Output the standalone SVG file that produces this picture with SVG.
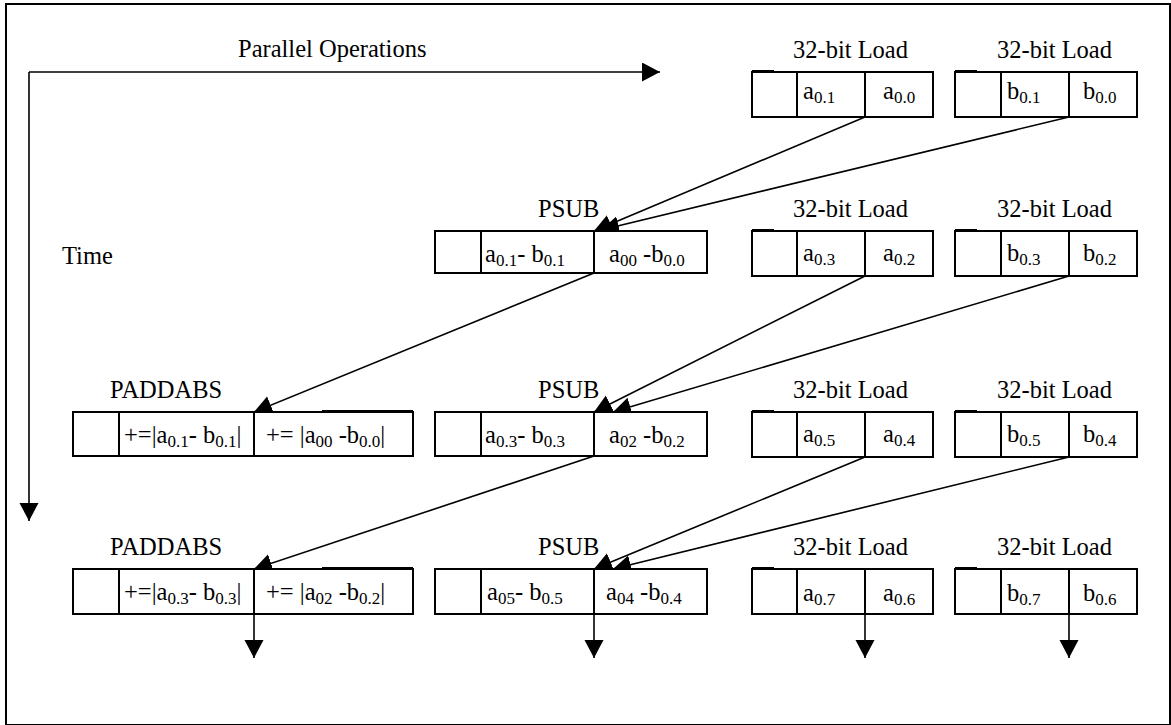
<svg xmlns="http://www.w3.org/2000/svg" width="1171" height="725" viewBox="0 0 1171 725">
<style>
.t{font-family:"Liberation Serif","Times New Roman",serif;font-size:24.5px;fill:#000}
.s{font-size:17px}
.box{fill:#fff;stroke:#000;stroke-width:2}
.div{stroke:#000;stroke-width:2}
.c{stroke:#000;stroke-width:1.6;fill:none}
</style>
<defs>
<marker id="ah" markerUnits="userSpaceOnUse" markerWidth="20" markerHeight="20" refX="18" refY="9.5" orient="auto">
<path d="M0,0 L18,9.5 L0,19 z" fill="#000"/>
</marker>
<clipPath id="clipR1"><rect x="740" y="60" width="420" height="43.5"/></clipPath>
<clipPath id="clipR4"><rect x="740" y="570" width="420" height="35.5"/></clipPath>
</defs>
<rect x="0" y="0" width="1171" height="725" fill="#fff"/>
<rect x="6" y="4" width="1164" height="721" fill="none" stroke="#000" stroke-width="2"/>
<text class="t" x="238" y="57">Parallel Operations</text>
<text class="t" x="62" y="264">Time</text>

<g id="connectors">
<path class="c" d="M29,72 L660,72" marker-end="url(#ah)"/>
<path class="c" d="M29,72 L29,521" marker-end="url(#ah)"/>
<path class="c" d="M865,117 L594,231" marker-end="url(#ah)"/>
<path class="c" d="M1069,117 L601,230" marker-end="url(#ah)"/>
<path class="c" d="M594,273 L254,412" marker-end="url(#ah)"/>
<path class="c" d="M865,276 L594,412" marker-end="url(#ah)"/>
<path class="c" d="M1069,276 L613,412" marker-end="url(#ah)"/>
<path class="c" d="M594,456 L254,569" marker-end="url(#ah)"/>
<path class="c" d="M865,457 L594,569" marker-end="url(#ah)"/>
<path class="c" d="M1069,457 L613,569" marker-end="url(#ah)"/>
<path class="c" d="M254,614 L254,658" marker-end="url(#ah)"/>
<path class="c" d="M594,614 L594,658" marker-end="url(#ah)"/>
<path class="c" d="M865,614 L865,658" marker-end="url(#ah)"/>
<path class="c" d="M1069,614 L1069,658" marker-end="url(#ah)"/>
</g>

<!-- Row 1 -->
<g id="load-a-r1">
<text class="t" x="793" y="58">32-bit Load</text>
<rect class="box" x="752" y="72" width="181" height="45"/>
<line class="div" x1="797" y1="72" x2="797" y2="117"/><line class="div" x1="865" y1="72" x2="865" y2="117"/>
<line class="div" x1="752" y1="71" x2="774" y2="71"/>
<g clip-path="url(#clipR1)">
<text class="t" x="803" y="99">a<tspan class="s" dy="4">0.1</tspan></text>
<text class="t" x="883" y="99">a<tspan class="s" dy="4">0.0</tspan></text>
</g>
</g>
<g id="load-b-r1">
<text class="t" x="997" y="58">32-bit Load</text>
<rect class="box" x="955" y="72" width="182" height="45"/>
<line class="div" x1="1001" y1="72" x2="1001" y2="117"/><line class="div" x1="1069" y1="72" x2="1069" y2="117"/>
<line class="div" x1="955" y1="71" x2="977" y2="71"/>
<g clip-path="url(#clipR1)">
<text class="t" x="1007" y="99">b<tspan class="s" dy="4">0.1</tspan></text>
<text class="t" x="1083" y="99">b<tspan class="s" dy="4">0.0</tspan></text>
</g>
</g>

<!-- Row 2 -->
<g id="psub-r2">
<text class="t" x="538" y="217">PSUB</text>
<rect class="box" x="435" y="231" width="272" height="42"/>
<line class="div" x1="481" y1="231" x2="481" y2="273"/><line class="div" x1="594" y1="231" x2="594" y2="273"/>
<text class="t" x="485" y="262">a<tspan class="s" dy="4">0.1</tspan><tspan dy="-4">- b</tspan><tspan class="s" dy="4">0.1</tspan></text>
<text class="t" x="609" y="262">a<tspan class="s" dy="4">00</tspan><tspan dy="-4"> -b</tspan><tspan class="s" dy="4">0.0</tspan></text>
</g>
<g id="load-a-r2">
<text class="t" x="793" y="217">32-bit Load</text>
<rect class="box" x="752" y="231" width="181" height="45"/>
<line class="div" x1="797" y1="231" x2="797" y2="276"/><line class="div" x1="865" y1="231" x2="865" y2="276"/>
<line class="div" x1="752" y1="230" x2="774" y2="230"/>
<text class="t" x="803" y="261">a<tspan class="s" dy="4">0.3</tspan></text>
<text class="t" x="883" y="261">a<tspan class="s" dy="4">0.2</tspan></text>
</g>
<g id="load-b-r2">
<text class="t" x="997" y="217">32-bit Load</text>
<rect class="box" x="955" y="231" width="182" height="45"/>
<line class="div" x1="1001" y1="231" x2="1001" y2="276"/><line class="div" x1="1069" y1="231" x2="1069" y2="276"/>
<line class="div" x1="955" y1="230" x2="977" y2="230"/>
<text class="t" x="1007" y="261">b<tspan class="s" dy="4">0.3</tspan></text>
<text class="t" x="1083" y="261">b<tspan class="s" dy="4">0.2</tspan></text>
</g>

<!-- Row 3 -->
<g id="paddabs-r3">
<text class="t" x="110" y="398">PADDABS</text>
<rect class="box" x="73" y="412" width="340" height="44"/>
<line class="div" x1="119" y1="412" x2="119" y2="456"/><line class="div" x1="254" y1="412" x2="254" y2="456"/>
<line class="div" x1="322" y1="411" x2="413" y2="411"/>
<text class="t" x="124" y="443">+=|a<tspan class="s" dy="4">0.1</tspan><tspan dy="-4">- b</tspan><tspan class="s" dy="4">0.1</tspan><tspan dy="-4">|</tspan></text>
<text class="t" x="266" y="443">+= |a<tspan class="s" dy="4">00</tspan><tspan dy="-4"> -b</tspan><tspan class="s" dy="4">0.0</tspan><tspan dy="-4">|</tspan></text>
</g>
<g id="psub-r3">
<text class="t" x="538" y="398">PSUB</text>
<rect class="box" x="435" y="412" width="272" height="44"/>
<line class="div" x1="481" y1="412" x2="481" y2="456"/><line class="div" x1="594" y1="412" x2="594" y2="456"/>
<text class="t" x="485" y="443">a<tspan class="s" dy="4">0.3</tspan><tspan dy="-4">- b</tspan><tspan class="s" dy="4">0.3</tspan></text>
<text class="t" x="609" y="443">a<tspan class="s" dy="4">02</tspan><tspan dy="-4"> -b</tspan><tspan class="s" dy="4">0.2</tspan></text>
</g>
<g id="load-a-r3">
<text class="t" x="793" y="398">32-bit Load</text>
<rect class="box" x="752" y="412" width="181" height="45"/>
<line class="div" x1="797" y1="412" x2="797" y2="457"/><line class="div" x1="865" y1="412" x2="865" y2="457"/>
<line class="div" x1="752" y1="411" x2="774" y2="411"/>
<text class="t" x="803" y="442">a<tspan class="s" dy="4">0.5</tspan></text>
<text class="t" x="883" y="442">a<tspan class="s" dy="4">0.4</tspan></text>
</g>
<g id="load-b-r3">
<text class="t" x="997" y="398">32-bit Load</text>
<rect class="box" x="955" y="412" width="182" height="45"/>
<line class="div" x1="1001" y1="412" x2="1001" y2="457"/><line class="div" x1="1069" y1="412" x2="1069" y2="457"/>
<line class="div" x1="955" y1="411" x2="977" y2="411"/>
<text class="t" x="1007" y="442">b<tspan class="s" dy="4">0.5</tspan></text>
<text class="t" x="1083" y="442">b<tspan class="s" dy="4">0.4</tspan></text>
</g>

<!-- Row 4 -->
<g id="paddabs-r4">
<text class="t" x="110" y="555">PADDABS</text>
<rect class="box" x="73" y="569" width="340" height="45"/>
<line class="div" x1="119" y1="569" x2="119" y2="614"/><line class="div" x1="254" y1="569" x2="254" y2="614"/>
<line class="div" x1="322" y1="568" x2="413" y2="568"/>
<text class="t" x="124" y="600">+=|a<tspan class="s" dy="4">0.3</tspan><tspan dy="-4">- b</tspan><tspan class="s" dy="4">0.3</tspan><tspan dy="-4">|</tspan></text>
<text class="t" x="266" y="600">+= |a<tspan class="s" dy="4">02</tspan><tspan dy="-4"> -b</tspan><tspan class="s" dy="4">0.2</tspan><tspan dy="-4">|</tspan></text>
</g>
<g id="psub-r4">
<text class="t" x="538" y="555">PSUB</text>
<rect class="box" x="435" y="569" width="272" height="45"/>
<line class="div" x1="481" y1="569" x2="481" y2="614"/><line class="div" x1="594" y1="569" x2="594" y2="614"/>
<text class="t" x="487" y="600">a<tspan class="s" dy="4">05</tspan><tspan dy="-4">- b</tspan><tspan class="s" dy="4">0.5</tspan></text>
<text class="t" x="606" y="600">a<tspan class="s" dy="4">04</tspan><tspan dy="-4"> -b</tspan><tspan class="s" dy="4">0.4</tspan></text>
</g>
<g id="load-a-r4">
<text class="t" x="793" y="555">32-bit Load</text>
<rect class="box" x="752" y="569" width="181" height="45"/>
<line class="div" x1="797" y1="569" x2="797" y2="614"/><line class="div" x1="865" y1="569" x2="865" y2="614"/>
<line class="div" x1="752" y1="568" x2="774" y2="568"/>
<g clip-path="url(#clipR4)">
<text class="t" x="803" y="601">a<tspan class="s" dy="4">0.7</tspan></text>
<text class="t" x="883" y="601">a<tspan class="s" dy="4">0.6</tspan></text>
</g>
</g>
<g id="load-b-r4">
<text class="t" x="997" y="555">32-bit Load</text>
<rect class="box" x="955" y="569" width="182" height="45"/>
<line class="div" x1="1001" y1="569" x2="1001" y2="614"/><line class="div" x1="1069" y1="569" x2="1069" y2="614"/>
<line class="div" x1="955" y1="568" x2="977" y2="568"/>
<g clip-path="url(#clipR4)">
<text class="t" x="1007" y="601">b<tspan class="s" dy="4">0.7</tspan></text>
<text class="t" x="1083" y="601">b<tspan class="s" dy="4">0.6</tspan></text>
</g>
</g>
</svg>
